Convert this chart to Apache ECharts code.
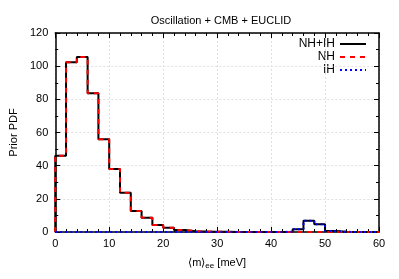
<!DOCTYPE html>
<html>
<head>
<meta charset="utf-8">
<script src="https://cdn.jsdelivr.net/npm/echarts@6/dist/echarts.min.js"></script>
<style>html,body{margin:0;padding:0;background:#fff;}#c{width:399px;height:279px;}</style>
</head>
<body>
<div id="c"></div>
<script>
// Bin left edges (meV), bin width 2
const binEdges = [0,2,4,6,8,10,12,14,16,18,20,22,24,26,28,30,32,34,36,38,40,42,44,46,48,50,52,54,56,58,60];
const nhValues = [46,102.3,105.5,83.6,56,38,23.7,12.7,8.6,4.2,2.6,1.2,0.5,0.3,0.2,0.1,0,0,0,0,0,0,0,0,0,0,0,0,0,0];
const ihValues = [0,0,0,0,0,0,0,0,0,0,0,0,0,0,0,0,0,0,0,0,0,0.2,1.6,6.8,4.6,0.6,0.1,0,0,0];
const totValues = [46,102.3,105.5,83.6,56,38,23.7,12.7,8.6,4.2,2.6,1.2,0.5,0.3,0.2,0.1,0,0,0,0,0,0.2,1.6,6.8,4.6,0.6,0.1,0,0,0];
const xTicks = [0,10,20,30,40,50,60];
const yTicks = [0,20,40,60,80,100,120];
const seriesNames = ['NH+IH','NH','IH'];

function stepData(vals){
  const d = [[binEdges[0],0]];
  for(let i=0;i<vals.length;i++) d.push([binEdges[i], vals[i]]);
  d.push([binEdges[vals.length], vals[vals.length-1]]);
  return d;
}
const font = 'Liberation Sans, Arial, Helvetica, sans-serif';
const chart = echarts.init(document.getElementById('c'), null, {renderer:'canvas'});
const axisCommon = {
  axisLine:{show:true,onZero:false,lineStyle:{color:'#000',width:1.5}},
  axisTick:{show:true,inside:true,length:5,lineStyle:{color:'#000',width:1}},
};
const legendStyles = [
  {color:'#000',dash:null},
  {color:'#ff0000',dash:[5,5]},
  {color:'#0000ff',dash:[2,3]}
];
const legendGraphics = [];
seriesNames.forEach((n,i)=>{
  const y = 44 + i*13;
  legendGraphics.push({type:'text',left:'auto',x:335,y:y,style:{text:n,fill:'#000',font:'12px '+font,textAlign:'right',textVerticalAlign:'middle'}});
  legendGraphics.push({type:'line',shape:{x1:340,y1:y,x2:366,y2:y},style:{stroke:legendStyles[i].color,lineWidth:2,lineDash:legendStyles[i].dash}});
});
chart.setOption({
  animation:false,
  title:{text:'Oscillation + CMB + EUCLID',left:216,top:10,textAlign:'center',
    textStyle:{fontFamily:font,fontSize:11,fontWeight:'normal',color:'#000'}},
  graphic:legendGraphics,
  grid:{left:54,right:20,top:33,bottom:47,containLabel:false},
  xAxis:[
    Object.assign({type:'value',min:0,max:60,interval:10,position:'bottom',
      name:'⟨m⟩{s|ee} [meV]',nameLocation:'middle',nameGap:24,
      nameTextStyle:{fontFamily:font,fontSize:11,color:'#000',rich:{s:{fontSize:8,fontFamily:font,verticalAlign:'bottom',padding:[6,0,0,0]}}},
      axisLabel:{fontFamily:font,fontSize:11,color:'#000',margin:6,formatter:v=>xTicks.includes(v)?String(v):''},
      splitLine:{show:true,lineStyle:{color:'#e0e0e0',type:[2,2],width:1}}
    },axisCommon,{minorTick:{show:true,splitNumber:5,length:3,lineStyle:{color:'#000'}}}),
    Object.assign({type:'value',min:0,max:60,interval:10,position:'top',axisLabel:{show:false},splitLine:{show:false}},axisCommon,{minorTick:{show:true,splitNumber:5,length:3,lineStyle:{color:'#000'}}})
  ],
  yAxis:[
    Object.assign({type:'value',min:0,max:120,interval:20,position:'left',
      name:'Prior PDF',nameLocation:'middle',nameGap:34,nameRotate:90,
      nameTextStyle:{fontFamily:font,fontSize:11,color:'#000'},
      axisLabel:{fontFamily:font,fontSize:11,color:'#000',margin:7,formatter:v=>yTicks.includes(v)?String(v):''},
      splitLine:{show:true,lineStyle:{color:'#e0e0e0',type:[2,2],width:1}}
    },axisCommon,{minorTick:{show:true,splitNumber:2,length:3,lineStyle:{color:'#000'}}}),
    Object.assign({type:'value',min:0,max:120,interval:20,position:'right',axisLabel:{show:false},splitLine:{show:false}},axisCommon,{minorTick:{show:true,splitNumber:2,length:3,lineStyle:{color:'#000'}}})
  ],
  series:[
    {name:seriesNames[0],type:'line',step:'end',symbol:'none',data:stepData(totValues),
      lineStyle:{color:'#000',width:2,type:'solid'},itemStyle:{color:'#000'},z:3},
    {name:seriesNames[1],type:'line',step:'end',symbol:'none',data:stepData(nhValues),
      lineStyle:{color:'#ff0000',width:2,type:[5,5]},itemStyle:{color:'#ff0000'},z:4},
    {name:seriesNames[2],type:'line',step:'end',symbol:'none',data:stepData(ihValues),
      lineStyle:{color:'#0000ff',width:2,type:[2,3]},itemStyle:{color:'#0000ff'},z:5}
  ]
});
</script>
</body>
</html>
